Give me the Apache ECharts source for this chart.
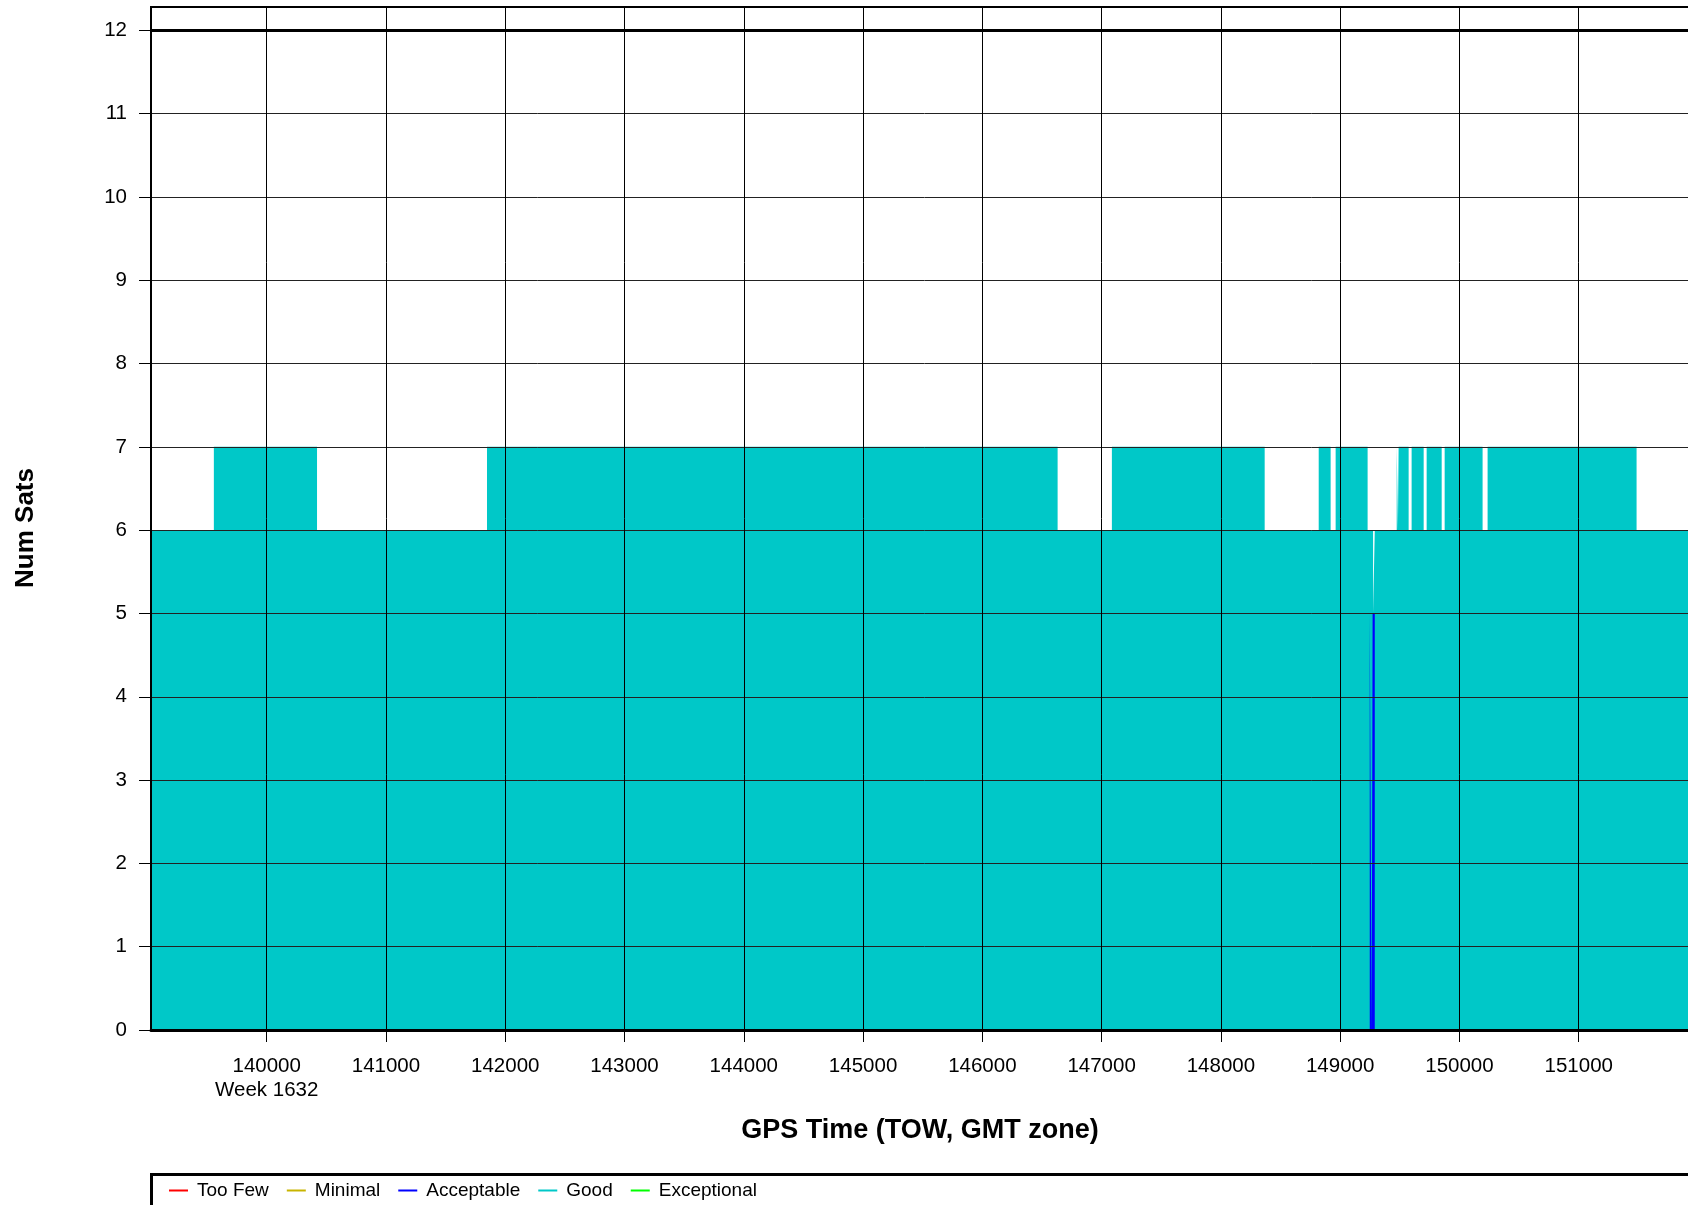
<!DOCTYPE html>
<html>
<head>
<meta charset="utf-8">
<script src="https://cdn.jsdelivr.net/npm/echarts@6/dist/echarts.min.js"></script>
<style>
  html, body { margin: 0; padding: 0; background: #fff; overflow: hidden; }
  #chart { width: 1700px; height: 1205px; }
</style>
</head>
<body>
<div id="chart"></div>
<script>
// ---- data ----
const xTicks = [140000, 141000, 142000, 143000, 144000, 145000, 146000, 147000, 148000, 149000, 150000, 151000];
const yTicks = [0, 1, 2, 3, 4, 5, 6, 7, 8, 9, 10, 11, 12];
const weekTick = 140000;
const weekLabel = 'Week 1632';
const xMin = 139030;
const xMax = 152000;
const yMax = 12.28;
const satLimit = 12;

// step transitions (time of week, number of satellites) for the "Good" quality class
const goodTimes = [139030, 139557, 140422, 141847, 146631, 147086, 148367, 148820, 148920, 148962, 149230,
                   149276, 149290, 149474, 149484, 149490, 149574, 149599, 149700, 149725, 149851,
                   149876, 150194, 150236, 151485, 152000];
const goodSats  = [6, 7, 6, 7, 6, 7, 6, 7, 6, 7, 6,
                   5, 6, 7, 6, 7, 6, 7, 6, 7, 6,
                   7, 6, 7, 6, 6];
// "Acceptable" quality class
const acceptableTimes = [149248, 149264, 149272, 149290];
const acceptableSats  = [5, 0, 5, 0];
// classes with no epochs in this interval
const tooFewTimes = [], tooFewSats = [];
const minimalTimes = [], minimalSats = [];
const exceptionalTimes = [], exceptionalSats = [];

const categories = ['Too Few', 'Minimal', 'Acceptable', 'Good', 'Exceptional'];

function pairs(t, v) { return t.map((x, i) => [x, v[i]]); }

const FONT = '"Liberation Sans", Arial, Helvetica, sans-serif';

const chart = echarts.init(document.getElementById('chart'), null, { renderer: 'canvas' });

function stepSeries(name, color, data, extra) {
  return Object.assign({
    name: name,
    type: 'line',
    step: 'end',
    data: data,
    showSymbol: false,
    symbol: 'none',
    itemStyle: { color: color },
    lineStyle: { width: 0, color: color },
    areaStyle: { color: color, opacity: 1 },
    animation: false,
    silent: true
  }, extra || {});
}

chart.setOption({
  animation: false,
  backgroundColor: '#fff',
  textStyle: { fontFamily: FONT },
  grid: {
    left: 151, right: 2, top: 7, bottom: 175,
    show: true, borderColor: '#000', borderWidth: 2, backgroundColor: 'transparent'
  },
  legend: {
    data: categories,
    icon: 'rect',
    itemWidth: 19,
    itemHeight: 2,
    itemGap: 18,
    left: 169,
    top: 1181,
    padding: 0,
    selectedMode: false,
    textStyle: { fontSize: 19, color: '#000', fontFamily: FONT, padding: [0, 0, 0, 4] }
  },
  graphic: [{
    type: 'rect', left: 149, top: 1172, z: -1,
    shape: { width: 1600, height: 100 },
    style: { fill: 'none', stroke: '#000', lineWidth: 3 }
  }],
  xAxis: {
    type: 'value',
    min: xMin, max: xMax,
    z: 5,
    name: 'GPS Time (TOW, GMT zone)',
    nameLocation: 'middle',
    nameGap: 87,
    nameTextStyle: { fontSize: 27, fontWeight: 'bold', color: '#000', fontFamily: FONT, padding: [0, 9, 0, 0] },
    axisLine: { show: true, onZero: false, lineStyle: { color: '#000', width: 3 } },
    axisTick: { show: true, customValues: xTicks, length: 12, lineStyle: { color: '#000', width: 1 } },
    axisLabel: {
      customValues: xTicks,
      fontSize: 20.5, color: '#000', fontFamily: FONT, margin: 24, lineHeight: 24,
      formatter: v => (v === weekTick ? v + '\n' + weekLabel : String(v))
    },
    splitLine: { show: true, lineStyle: { color: '#000', width: 1 } }
  },
  yAxis: {
    type: 'value',
    min: 0, max: yMax,
    z: 5,
    name: 'Num Sats',
    nameLocation: 'middle',
    nameRotate: 90,
    nameGap: 112,
    nameTextStyle: { fontSize: 26, fontWeight: 'bold', color: '#000', fontFamily: FONT, padding: [0, 19, 0, 0] },
    axisLine: { show: true, lineStyle: { color: '#000', width: 2 } },
    axisTick: { show: true, customValues: yTicks, length: 12, lineStyle: { color: '#000', width: 1 } },
    axisLabel: { customValues: yTicks, fontSize: 20.5, color: '#000', fontFamily: FONT, margin: 24 },
    splitLine: { show: true, lineStyle: { color: '#222', width: 1 } }
  },
  series: [
    stepSeries('Too Few', '#ff0000', pairs(tooFewTimes, tooFewSats)),
    stepSeries('Minimal', '#c8b400', pairs(minimalTimes, minimalSats)),
    stepSeries('Good', '#00c8c8', pairs(goodTimes, goodSats), {
      markLine: {
        silent: true, symbol: ['none', 'none'], label: { show: false },
        lineStyle: { color: '#000', width: 3, type: 'solid' },
        data: [{ yAxis: satLimit }]
      }
    }),
    stepSeries('Acceptable', '#0000ff', pairs(acceptableTimes, acceptableSats)),
    stepSeries('Exceptional', '#00ff00', pairs(exceptionalTimes, exceptionalSats))
  ]
});
</script>
</body>
</html>
